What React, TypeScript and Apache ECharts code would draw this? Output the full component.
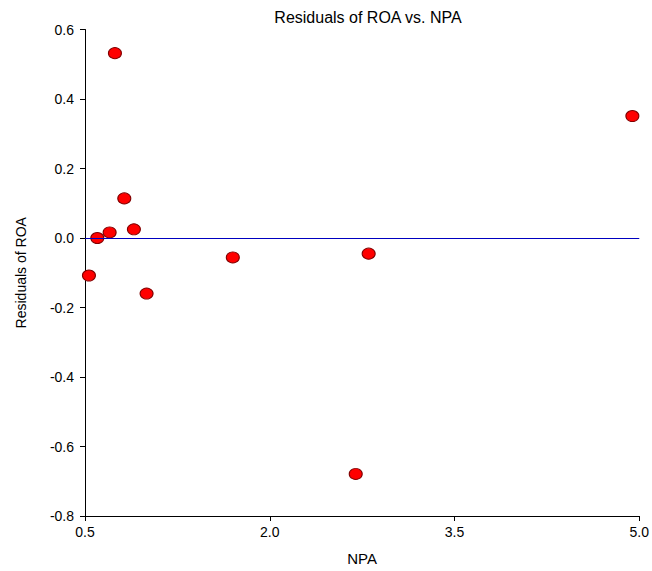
import React, { useEffect, useRef } from "react";
import * as echarts from "echarts";

const npa = [0.532, 0.6, 0.7, 0.743, 0.819, 0.897, 1.0, 1.7, 2.698, 2.803, 4.944];
const residuals = [-0.108, 0.0, 0.016, 0.532, 0.114, 0.025, -0.16, -0.056, -0.679, -0.045, 0.351];
const xTicks = [0.5, 2.0, 3.5, 5.0];
const yTicks = [-0.8, -0.6, -0.4, -0.2, 0.0, 0.2, 0.4, 0.6];

export default function App() {
  const ref = useRef<HTMLDivElement>(null);
  useEffect(() => {
    if (!ref.current) return;
    const chart = echarts.init(ref.current, undefined, { renderer: "svg" });
    const font = "'Liberation Sans', Arial, sans-serif";
    chart.setOption({
      animation: false,
      backgroundColor: "#ffffff",
      title: {
        text: "Residuals of ROA vs. NPA",
        left: 363,
        textAlign: "center",
        top: 4,
        textStyle: { fontFamily: font, fontSize: 16, fontWeight: "normal", color: "#000" },
      },
      grid: { left: 85, right: 12, top: 29.5, bottom: 54, containLabel: false },
      xAxis: {
        type: "value",
        min: xTicks[0],
        max: xTicks[xTicks.length - 1],
        interval: 1.5,
        name: "NPA",
        nameLocation: "middle",
        nameGap: 35,
        nameTextStyle: { fontFamily: font, fontSize: 15, color: "#000" },
        axisLine: { show: true, onZero: false, lineStyle: { color: "#000", width: 1 } },
        axisTick: { show: true, length: 5, lineStyle: { color: "#000" } },
        splitLine: { show: false },
        axisLabel: {
          fontFamily: font,
          fontSize: 14,
          color: "#000",
          margin: 9,
          formatter: (v: number) => v.toFixed(1),
        },
      },
      yAxis: {
        type: "value",
        min: yTicks[0],
        max: yTicks[yTicks.length - 1],
        interval: 0.2,
        name: "Residuals of ROA",
        nameLocation: "middle",
        nameGap: 57,
        nameTextStyle: { fontFamily: font, fontSize: 14, color: "#000" },
        axisLine: { show: true, onZero: false, lineStyle: { color: "#000", width: 1 } },
        axisTick: { show: true, length: 5, lineStyle: { color: "#000" } },
        splitLine: { show: false },
        axisLabel: {
          fontFamily: font,
          fontSize: 14,
          color: "#000",
          margin: 11,
          formatter: (v: number) => v.toFixed(1),
        },
      },
      series: [
        {
          type: "scatter",
          data: npa.map((x, i) => [x, residuals[i]]),
          symbol: "circle",
          symbolSize: [13, 11],
          itemStyle: { color: "#ff0000", borderColor: "#800000", borderWidth: 1, opacity: 1 },
          markLine: {
            silent: true,
            symbol: ["none", "none"],
            label: { show: false },
            lineStyle: { color: "#0000c0", width: 1, type: "solid" },
            data: [{ yAxis: 0 }],
          },
          z: 3,
        },
      ],
    });
    return () => chart.dispose();
  }, []);
  return (
    <div
      ref={ref}
      style={{ position: "absolute", left: 0, top: 0, width: 652, height: 571 }}
    />
  );
}
